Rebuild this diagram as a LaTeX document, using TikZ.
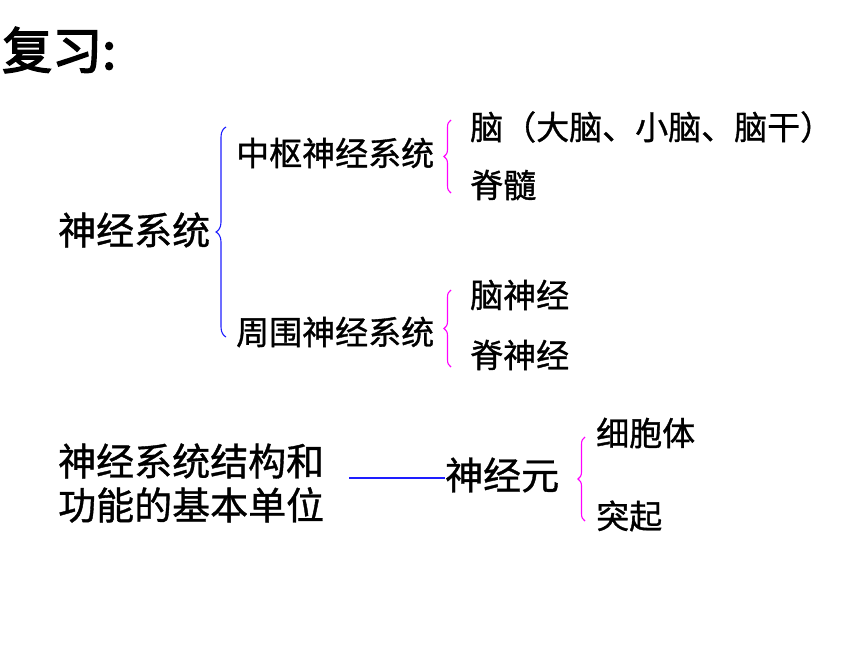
\documentclass[tikz,border=0pt]{standalone}
\usepackage{fontspec}
\usetikzlibrary{decorations.pathreplacing}
\newfontfamily\cjk{Noto Sans CJK SC}[FakeBold=1]
\newfontfamily\cjkbold{Noto Sans CJK SC}[FakeBold=3]
\definecolor{braceblue}{RGB}{30,30,255}
\definecolor{bracepink}{RGB}{255,0,255}
\tikzset{
  big/.style={anchor=west, inner sep=0pt, font=\cjk\fontsize{38}{44}\selectfont},
  small/.style={anchor=west, inner sep=0pt, font=\cjk\fontsize{33}{35}\selectfont},
  bluebrace/.style={draw=braceblue, line width=1.1pt, decorate, decoration={brace, amplitude=10pt}},
  pinkbrace/.style={draw=bracepink, line width=1.1pt, decorate, decoration={brace, amplitude=7pt}}
}
\begin{document}
\begin{tikzpicture}[x=1pt, y=-1pt]
    \useasboundingbox (0, 0) rectangle (860, 645);

    % Nodes
    \node [anchor=west, inner sep=0pt, font=\cjkbold\fontsize{50}{52}\selectfont] (title) at (2, 50) {复习:};
    \node [big] (ns) at (58, 230) {神经系统};
    \node [small] (cns) at (236, 153) {中枢神经系统};
    \node [small] (pns) at (236, 332) {周围神经系统};
    \node [small] (brain) at (470, 127) {脑（大脑、小脑、脑干）};
    \node [small] (cord) at (470, 185) {脊髓};
    \node [small] (cn) at (470, 295) {脑神经};
    \node [small] (sn) at (470, 355) {脊神经};
    \node [big, align=left] (unit) at (58, 483) {神经系统结构和\\功能的基本单位};
    \node [big] (neuron) at (445, 475) {神经元};
    \node [small] (body) at (596, 433) {细胞体};
    \node [small] (proc) at (596, 516) {突起};
    \path (349, 478) coordinate (link);

    % Connections
    \draw [bluebrace] (226, 337) -- (226, 127);
    \draw [pinkbrace] (451, 193) -- (451, 120);
    \draw [pinkbrace] (451, 367) -- (451, 290);
    \draw [pinkbrace] (585, 521) -- (585, 437);
    \draw [draw=braceblue, line width=1.1pt] (link) -- (link -| neuron.west);
  \end{tikzpicture}
\end{document}
